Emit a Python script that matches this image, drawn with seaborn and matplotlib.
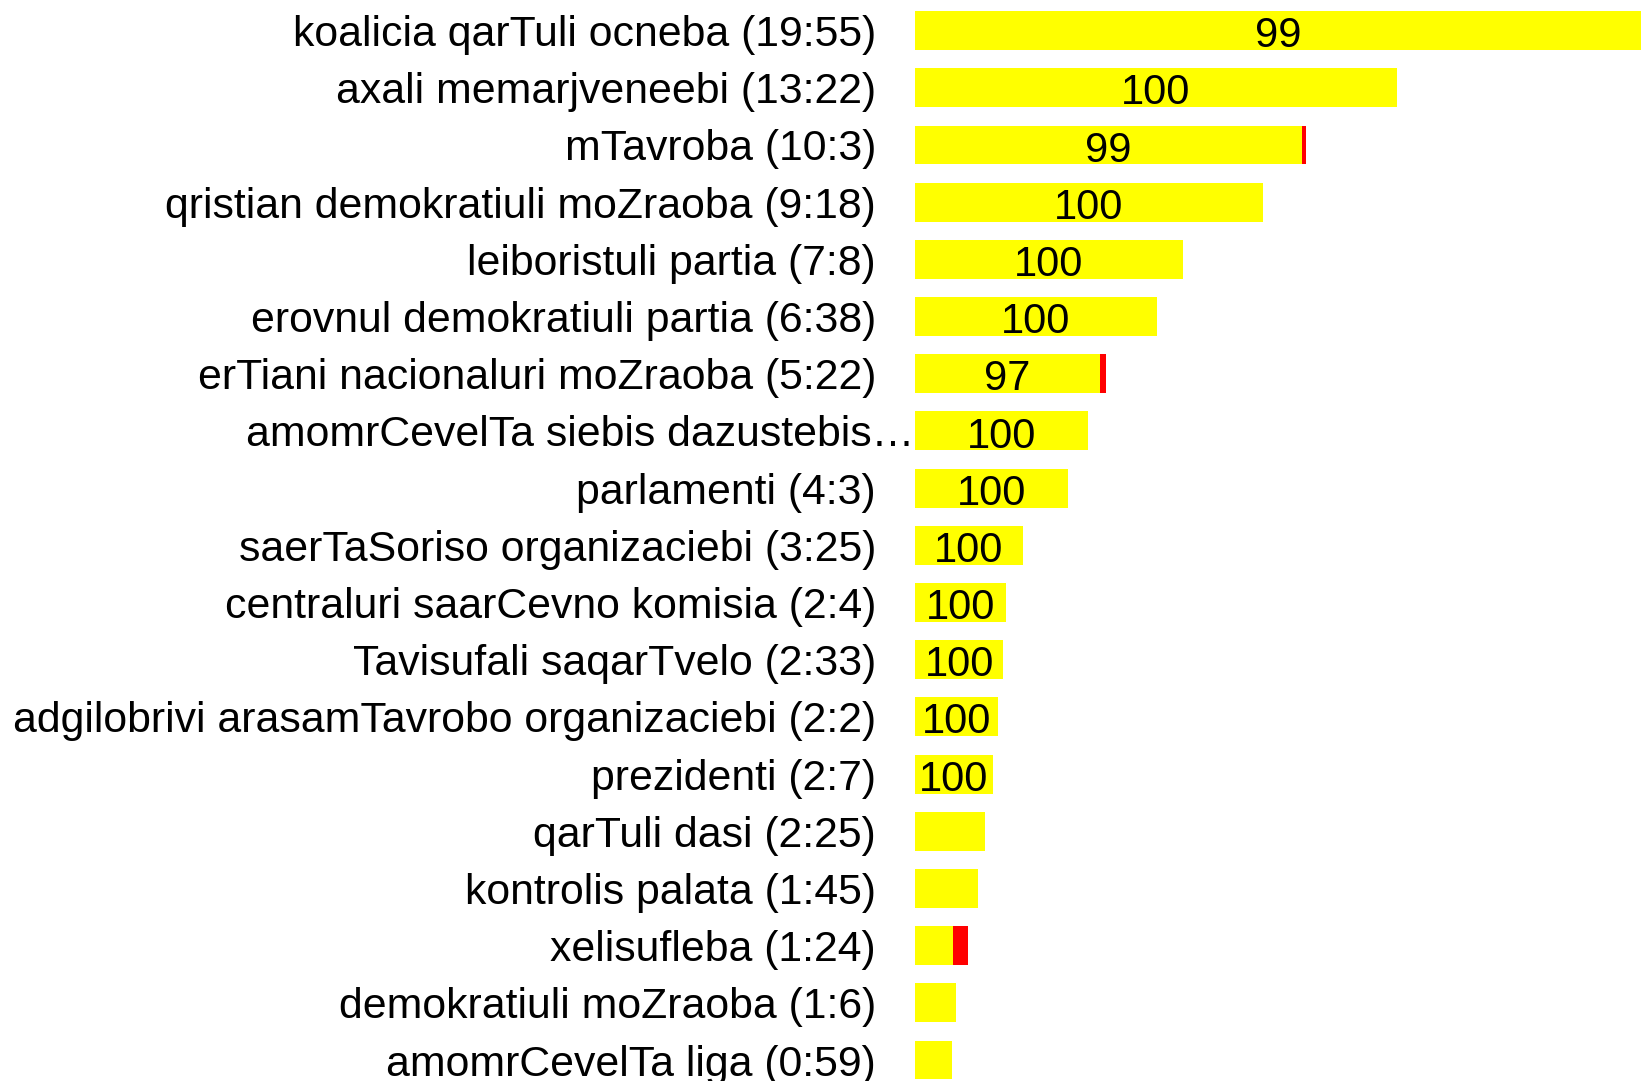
import matplotlib
matplotlib.use("Agg")
import matplotlib.pyplot as plt
import seaborn as sns
import pandas as pd

categories = [
    "koalicia qarTuli ocneba (19:55)",
    "axali memarjveneebi (13:22)",
    "mTavroba (10:3)",
    "qristian demokratiuli moZraoba (9:18)",
    "leiboristuli partia (7:8)",
    "erovnul demokratiuli partia (6:38)",
    "erTiani nacionaluri moZraoba (5:22)",
    "amomrCevelTa siebis dazustebis…",
    "parlamenti (4:3)",
    "saerTaSoriso organizaciebi (3:25)",
    "centraluri saarCevno komisia (2:4)",
    "Tavisufali saqarTvelo (2:33)",
    "adgilobrivi arasamTavrobo organizaciebi (2:2)",
    "prezidenti (2:7)",
    "qarTuli dasi (2:25)",
    "kontrolis palata (1:45)",
    "xelisufleba (1:24)",
    "demokratiuli moZraoba (1:6)",
    "amomrCevelTa liga (0:59)",
]
yellow_part = [1195, 794, 637, 573, 442, 398, 305, 285, 252, 178, 150, 146, 137, 129, 115, 104, 63, 68, 61]
red_part = [0, 0, 6, 0, 0, 0, 10, 0, 0, 0, 0, 0, 0, 0, 0, 0, 24, 0, 0]
bar_labels = ["99", "100", "99", "100", "100", "100", "97", "100", "100", "100", "100", "100", "100", "100",
              "", "", "", "", ""]

df = pd.DataFrame({
    "cat": categories,
    "yellow": yellow_part,
    "total": [y + r for y, r in zip(yellow_part, red_part)],
    "label": bar_labels,
})

sns.set_theme(style="white")
plt.rcParams["font.family"] = ["Liberation Sans", "DejaVu Sans"]

W, H = 1641, 1081
fig = plt.figure(figsize=(W / 100, H / 100), dpi=100)
left = 914.7 / W
ax = fig.add_axes([left, 0, 1 - left, 1])

sns.barplot(data=df, y="cat", x="total", color="#FF0000", saturation=1, width=0.68,
            orient="h", ax=ax, linewidth=0)
sns.barplot(data=df, y="cat", x="yellow", color="#FFFF00", saturation=1, width=0.68,
            orient="h", ax=ax, linewidth=0)

xmax = max(yellow_part)
ax.set_xlim(0, xmax)
pitch = 57.19
top_c = 30.6
ax.set_ylim((H - top_c) / pitch, -top_c / pitch)

for i, (y, lab) in enumerate(zip(yellow_part, bar_labels)):
    if lab:
        ax.text(min(y, xmax) / 2, i + 0.29, lab, ha="center", va="baseline", fontsize=30, color="black")

LABEL_FS = 30.8
ax.set_xlabel("")
ax.set_ylabel("")
ax.set_xticks([])
ax.set_yticks(range(len(categories)))
tick_texts = [c if i != 7 else "" for i, c in enumerate(categories)]
ax.set_yticklabels(tick_texts, fontsize=LABEL_FS, color="black")
ax.tick_params(axis="y", length=0, pad=27.9)
ax.text(0, 7, categories[7], ha="right", va="center_baseline", fontsize=LABEL_FS, color="black",
        transform=ax.transData)
for s in ax.spines.values():
    s.set_visible(False)
ax.patch.set_alpha(0)

fig.savefig("out.png", dpi=100)
